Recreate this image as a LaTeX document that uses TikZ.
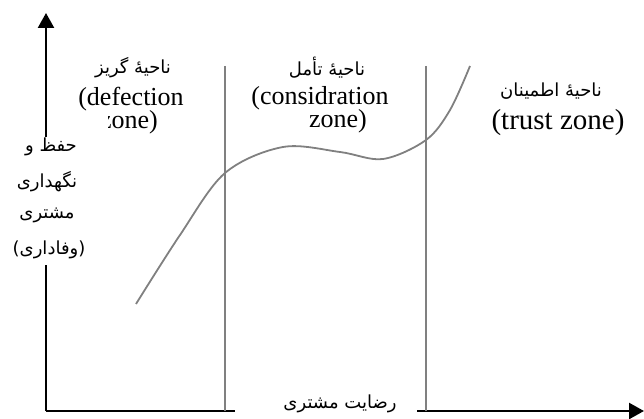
\documentclass[tikz,border=0pt]{standalone}
\usepackage{fontspec}
\setmainfont{Liberation Serif}
\newfontfamily\arabicfont[Script=Arabic]{DejaVu Sans}
\TeXXeTstate=1
\usetikzlibrary{arrows.meta}
\definecolor{linegray}{HTML}{808080}
\tikzset{
  axis/.style={line width=2.4pt, black},
  zoneline/.style={line width=1.8pt, linegray},
  curveline/.style={line width=1.8pt, linegray},
  lat/.style={inner sep=0pt, font=\fontsize{26}{26}\selectfont},
  fa/.style={inner sep=0pt, font=\arabicfont\fontsize{18}{18}\selectfont},
  tip/.style={-{Triangle[length=15pt,width=16pt]}},
  blank/.style={fill=white, draw=none, inner sep=0pt}
}
\newcommand{\fa}[1]{\beginR #1\endR}
\begin{document}
\begin{tikzpicture}[x=1pt,y=-1pt]
\useasboundingbox (0,0) rectangle (644,419);
% axes
\coordinate (O) at (46,411);
\coordinate (ytop) at (46,13);
\coordinate (xgapl) at (235,411);
\coordinate (xgapr) at (417,411);
\coordinate (xend) at (644,411);
\draw[axis,tip] (O) -- (ytop);
\draw[axis] (O) -- (xgapl);
\draw[axis,tip] (xgapr) -- (xend);
% zone lines
\coordinate (v1t) at (225,66);
\coordinate (v1b) at (225,411);
\coordinate (v2t) at (426,66);
\coordinate (v2b) at (426,411);
\draw[zoneline] (v1t) -- (v1b);
\draw[zoneline] (v2t) -- (v2b);
% curve
\draw[curveline] plot[smooth, tension=0.55] coordinates {(136,304) (180,235) (225,173) (283,147) (340,152) (383,159) (426,140) (450,110) (470,66)};
% zone labels
\node[fa] (a1) at (133,68) {\fa{ناحیهٔ گریز}};
\node[lat] (l1) at (131,99) {(defection};
\begin{scope}
\clip (108,105) rectangle (200,140);
\node[lat] (l1b) at (129,122) {zone)};
\end{scope}
\node[fa] (a2) at (327,68) {\fa{ناحیهٔ تأمل}};
\begin{scope}
\clip (250,80) rectangle (420,112);
\node[lat] (l2) at (320,98) {(considration};
\end{scope}
\node[lat] (l2b) at (338,121) {zone)};
\node[fa] (a3) at (551,91) {\fa{ناحیهٔ اطمینان}};
\node[lat, font=\fontsize{29}{29}\selectfont] (l3) at (558,123) {(trust zone)};
% y-axis label (its box hides the axis)
\node[blank, minimum width=78pt, minimum height=128pt] (ybox) at (50,201) {};
\node[fa] (y1) at (51,147) {\fa{حفظ و}};
\node[fa] (y2) at (47,182) {\fa{نگهداری}};
\node[fa] (y3) at (47,215) {\fa{مشتری}};
\node[fa] (y4) at (49,250) {\fa{(وفاداری)}};
% x-axis label
\node[fa] (xl) at (340,404) {\fa{رضایت مشتری}};
\end{tikzpicture}
\end{document}
